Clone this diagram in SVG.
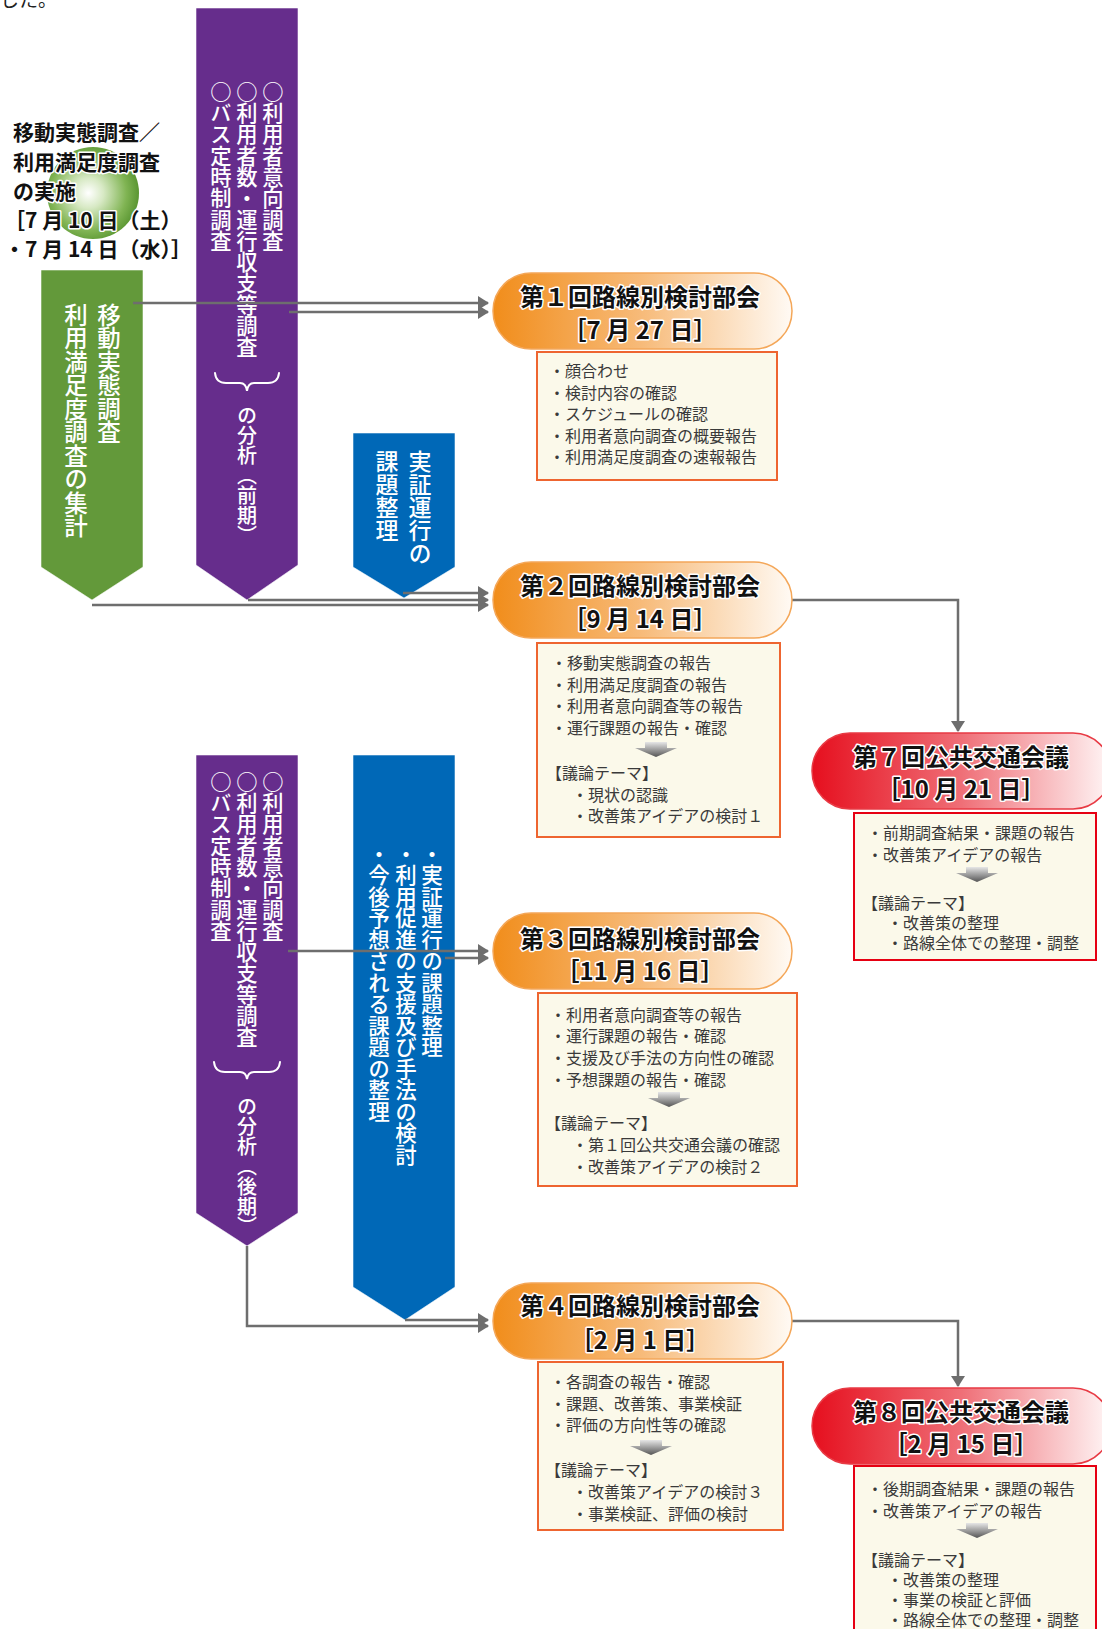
<svg xmlns="http://www.w3.org/2000/svg" width="1102" height="1629" viewBox="0 0 1102 1629">
<defs>
<style>
.vt{writing-mode:vertical-rl;font-family:"Noto Sans CJK JP",sans-serif;fill:#fff;font-weight:500}
.lbl{font-family:"Noto Sans CJK JP",sans-serif;font-weight:700;font-size:21px;fill:#111;stroke:#fff;stroke-width:3;paint-order:stroke;stroke-linejoin:round}
.title{font-family:"Noto Sans CJK JP",sans-serif;font-weight:700;font-size:24px;fill:#111;stroke:#fff;stroke-width:3;paint-order:stroke;stroke-linejoin:round;text-anchor:middle}
.item{font-family:"Noto Sans CJK JP",sans-serif;font-size:16px;fill:#3a3a3a}
.box-o{fill:#fbf9ea;stroke:#ee6530;stroke-width:2}
.box-r{fill:#fbf9ea;stroke:#e60012;stroke-width:2}
.pill-o{fill:url(#gO);stroke:#f4a759;stroke-width:1.5}
.pill-r{fill:url(#gR);stroke:#e83a44;stroke-width:1.5}
.col{stroke:#ffffff;stroke-opacity:0.55;stroke-width:1}
.conn{fill:none;stroke:#6e6e6e;stroke-width:2.5;marker-end:url(#ah)}
.brace{fill:none;stroke:#fff;stroke-width:2;stroke-linecap:round}
</style>
<linearGradient id="gO" x1="0" y1="0" x2="1" y2="0">
<stop offset="0" stop-color="#f18d1b"/>
<stop offset="0.5" stop-color="#f7bb7a"/>
<stop offset="1" stop-color="#fffaf4"/>
</linearGradient>
<linearGradient id="gR" x1="0" y1="0" x2="1" y2="0">
<stop offset="0" stop-color="#e60f1e"/>
<stop offset="0.5" stop-color="#ef6f77"/>
<stop offset="1" stop-color="#fff6f6"/>
</linearGradient>
<linearGradient id="gA" x1="0" y1="0" x2="0" y2="1">
<stop offset="0" stop-color="#e6e6e6"/>
<stop offset="1" stop-color="#555"/>
</linearGradient>
<radialGradient id="gC" cx="0.45" cy="0.5" r="0.55">
<stop offset="0" stop-color="#ffffff"/>
<stop offset="0.3" stop-color="#d7e9c4"/>
<stop offset="0.75" stop-color="#80b453"/>
<stop offset="1" stop-color="#5a9632"/>
</radialGradient>
<marker id="ah" viewBox="0 0 11 14" refX="10" refY="7" markerWidth="11" markerHeight="14" markerUnits="userSpaceOnUse" orient="auto">
<path d="M0,0 L11,7 L0,14 Z" fill="#6e6e6e"/>
</marker>
<path id="dn" d="M-11,0 H11 V6 H21 L0,15 L-21,6 H-11 Z" fill="url(#gA)"/>
</defs>

<text x="0" y="7" font-family="'Noto Sans CJK JP',sans-serif" font-size="19" fill="#222">した。</text>

<g id="survey-label">
<circle cx="93" cy="193" r="46" fill="url(#gC)"/>
<text class="lbl" x="13" y="140">移動実態調査／</text>
<text class="lbl" x="13" y="170">利用満足度調査</text>
<text class="lbl" x="13" y="199">の実施</text>
<text class="lbl" x="4" y="228">［7 月 10 日（土）</text>
<text class="lbl" x="4" y="257">・7 月 14 日（水）］</text>
</g>

<g id="green-col">
<polygon class="col" points="41,270 143,270 143,567 92,600 41,567" fill="#63993a"/>
<text class="vt" x="109" y="303" font-size="23.5">移動実態調査</text>
<text class="vt" x="76" y="303" font-size="23.5">利用満足度調査の集計</text>
</g>

<g id="purple-col-1">
<polygon class="col" points="196,8 298,8 298,565 247,600 196,565" fill="#662d8c"/>
<text class="vt" x="273" y="81" font-size="21.3">○利用者意向調査</text>
<text class="vt" x="247" y="81" font-size="21.3">○利用者数・運行収支等調査</text>
<text class="vt" x="221" y="81" font-size="21.3">○バス定時制調査</text>
<path class="brace" d="M215,373 Q216,383 226,383 H240 Q246,383 247,391 Q248,383 254,383 H268 Q278,383 279,373"/>
<text class="vt" x="247" y="405" font-size="20">の分析（前期）</text>
</g>

<g id="blue-col-1">
<polygon class="col" points="353,433 455,433 455,567 404,598 353,567" fill="#0068b7"/>
<text class="vt" x="420" y="450" font-size="23">実証運行の</text>
<text class="vt" x="387" y="450" font-size="23">課題整理</text>
</g>

<g id="purple-col-2">
<polygon class="col" points="196,755 298,755 298,1213 247,1246 196,1213" fill="#662d8c"/>
<text class="vt" x="273" y="771" font-size="21.3">○利用者意向調査</text>
<text class="vt" x="247" y="771" font-size="21.3">○利用者数・運行収支等調査</text>
<text class="vt" x="221" y="771" font-size="21.3">○バス定時制調査</text>
<path class="brace" d="M214,1062 Q215,1072 225,1072 H240 Q246,1072 247,1079 Q248,1072 254,1072 H269 Q279,1072 280,1062"/>
<text class="vt" x="247" y="1096" font-size="20">の分析（後期）</text>
</g>

<g id="blue-col-2">
<polygon class="col" points="353,755 455,755 455,1287 405,1320 353,1287" fill="#0068b7"/>
<text class="vt" x="432" y="843" font-size="21.5">・実証運行の課題整理</text>
<text class="vt" x="406" y="843" font-size="21.5">・利用促進の支援及び手法の検討</text>
<text class="vt" x="379" y="843" font-size="21.5">・今後予想される課題の整理</text>
</g>

<g id="connectors">
<path class="conn" d="M133,303 H488"/>
<path class="conn" d="M289,312 H488"/>
<path class="conn" d="M92,605 H488"/>
<path class="conn" d="M248,600 H488"/>
<path class="conn" d="M403,593 H488"/>
<path class="conn" d="M288,951 H488"/>
<path class="conn" d="M445,958 H488"/>
<path class="conn" d="M247,1246 V1326 H488"/>
<path class="conn" d="M405,1320 H488"/>
<path class="conn" d="M792,600 H958 V731"/>
<path class="conn" d="M792,1321 H958 V1386"/>
</g>

<g id="meeting-1">
<rect class="pill-o" x="493" y="273" width="299" height="76" rx="38"/>
<text class="title" x="640" y="306">第１回路線別検討部会</text>
<text class="title" x="640" y="339">［7 月 27 日］</text>
<rect class="box-o" x="537" y="352" width="240" height="128"/>
<text class="item" x="549" y="377">・顔合わせ</text>
<text class="item" x="549" y="398.5">・検討内容の確認</text>
<text class="item" x="549" y="420">・スケジュールの確認</text>
<text class="item" x="549" y="441.5">・利用者意向調査の概要報告</text>
<text class="item" x="549" y="463">・利用満足度調査の速報報告</text>
</g>

<g id="meeting-2">
<rect class="pill-o" x="493" y="562" width="299" height="76" rx="38"/>
<text class="title" x="640" y="595">第２回路線別検討部会</text>
<text class="title" x="640" y="628">［9 月 14 日］</text>
<rect class="box-o" x="537" y="643" width="243" height="194"/>
<text class="item" x="551" y="669">・移動実態調査の報告</text>
<text class="item" x="551" y="691">・利用満足度調査の報告</text>
<text class="item" x="551" y="712">・利用者意向調査等の報告</text>
<text class="item" x="551" y="734">・運行課題の報告・確認</text>
<use href="#dn" x="656" y="742"/>
<text class="item" x="546" y="779">【議論テーマ】</text>
<text class="item" x="572" y="801">・現状の認識</text>
<text class="item" x="572" y="822">・改善策アイデアの検討１</text>
</g>

<g id="meeting-3">
<rect class="pill-o" x="493" y="913" width="299" height="76" rx="38"/>
<text class="title" x="640" y="948">第３回路線別検討部会</text>
<text class="title" x="640" y="980">［11 月 16 日］</text>
<rect class="box-o" x="538" y="993" width="259" height="193"/>
<text class="item" x="550" y="1021">・利用者意向調査等の報告</text>
<text class="item" x="550" y="1042">・運行課題の報告・確認</text>
<text class="item" x="550" y="1064">・支援及び手法の方向性の確認</text>
<text class="item" x="550" y="1086">・予想課題の報告・確認</text>
<use href="#dn" x="669" y="1092"/>
<text class="item" x="545" y="1129">【議論テーマ】</text>
<text class="item" x="572" y="1151">・第１回公共交通会議の確認</text>
<text class="item" x="572" y="1173">・改善策アイデアの検討２</text>
</g>

<g id="meeting-4">
<rect class="pill-o" x="493" y="1283" width="299" height="76" rx="38"/>
<text class="title" x="640" y="1315">第４回路線別検討部会</text>
<text class="title" x="640" y="1349">［2 月 1 日］</text>
<rect class="box-o" x="538" y="1362" width="245" height="168"/>
<text class="item" x="550" y="1388">・各調査の報告・確認</text>
<text class="item" x="550" y="1410">・課題、改善策、事業検証</text>
<text class="item" x="550" y="1431">・評価の方向性等の確認</text>
<use href="#dn" x="651" y="1440"/>
<text class="item" x="545" y="1476">【議論テーマ】</text>
<text class="item" x="572" y="1498">・改善策アイデアの検討３</text>
<text class="item" x="572" y="1520">・事業検証、評価の検討</text>
</g>

<g id="council-7">
<rect class="pill-r" x="812" y="733" width="299" height="76" rx="38"/>
<text class="title" x="961" y="766">第７回公共交通会議</text>
<text class="title" x="961" y="798">［10 月 21 日］</text>
<rect class="box-r" x="854" y="813" width="242" height="147"/>
<text class="item" x="867" y="839">・前期調査結果・課題の報告</text>
<text class="item" x="867" y="861">・改善策アイデアの報告</text>
<use href="#dn" x="977" y="867"/>
<text class="item" x="862" y="909">【議論テーマ】</text>
<text class="item" x="887" y="929">・改善策の整理</text>
<text class="item" x="887" y="949">・路線全体での整理・調整</text>
</g>

<g id="council-8">
<rect class="pill-r" x="812" y="1388" width="299" height="76" rx="38"/>
<text class="title" x="961" y="1421">第８回公共交通会議</text>
<text class="title" x="961" y="1453">［2 月 15 日］</text>
<rect class="box-r" x="854" y="1466" width="242" height="180"/>
<text class="item" x="867" y="1495">・後期調査結果・課題の報告</text>
<text class="item" x="867" y="1517">・改善策アイデアの報告</text>
<use href="#dn" x="977" y="1523"/>
<text class="item" x="862" y="1566">【議論テーマ】</text>
<text class="item" x="887" y="1586">・改善策の整理</text>
<text class="item" x="887" y="1606">・事業の検証と評価</text>
<text class="item" x="887" y="1626">・路線全体での整理・調整</text>
</g>
</svg>
